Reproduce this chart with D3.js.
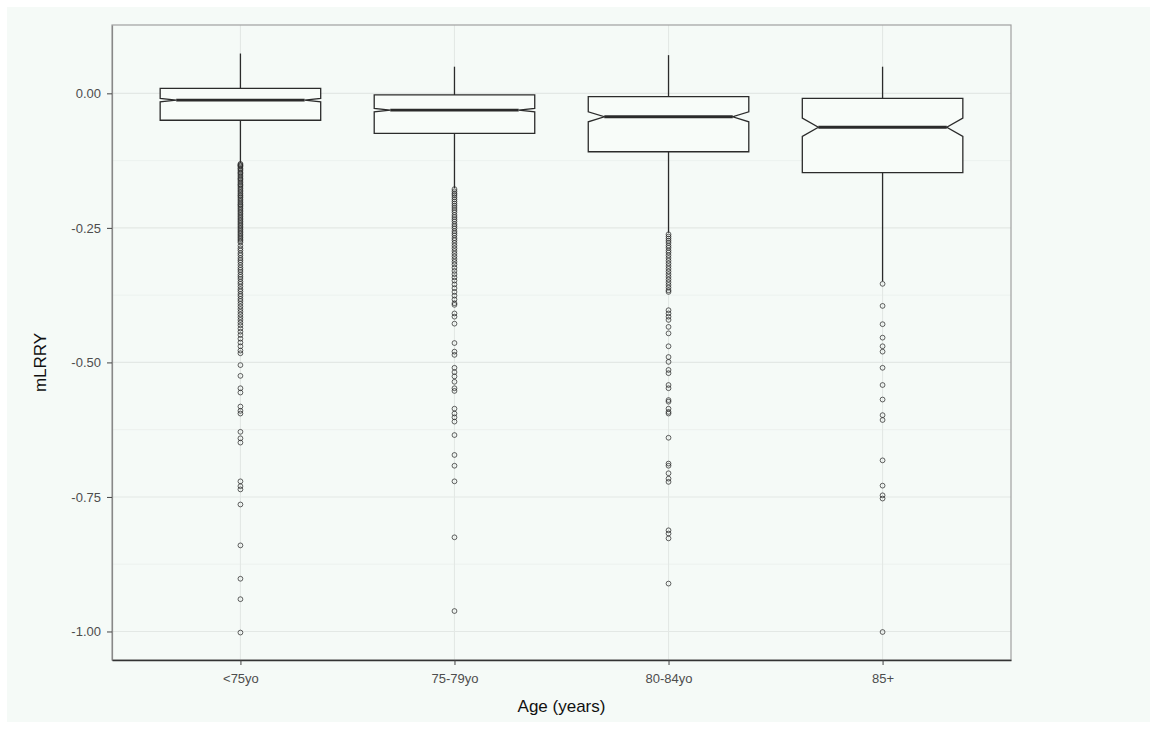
<!DOCTYPE html>
<html>
<head>
<meta charset="utf-8">
<script src="https://cdn.jsdelivr.net/npm/d3@7"></script>
<style>
  html, body { margin: 0; padding: 0; background: #ffffff; }
  svg { display: block; }
</style>
</head>
<body>
<svg id="chart" width="1157" height="729"></svg>
<script>
// Age groups and their box summaries (mLRRY)
const categories = ["<75yo", "75-79yo", "80-84yo", "85+"];
const whiskerHigh = [0.074, 0.0495, 0.071, 0.0495];
const q3 = [0.0093, -0.003, -0.006, -0.0093];
const medians = [-0.0125, -0.031, -0.0435, -0.063];
const q1 = [-0.050, -0.0745, -0.1085, -0.1475];
const whiskerLow = [-0.129, -0.176, -0.259, -0.349];
const notchHalf = [0.0032, 0.0032, 0.0093, 0.017];

// Outlying observations per age group
const outliers0 = [-0.131,-0.133,-0.134,-0.136,-0.139,-0.141,-0.144,-0.147,-0.149,-0.152,-0.155,-0.158,-0.160,-0.163,-0.166,-0.169,-0.171,-0.174,-0.177,-0.180,-0.183,-0.186,-0.189,-0.191,-0.194,-0.197,-0.200,-0.203,-0.206,-0.208,-0.211,-0.214,-0.217,-0.220,-0.223,-0.226,-0.229,-0.232,-0.235,-0.238,-0.241,-0.244,-0.247,-0.250,-0.253,-0.256,-0.259,-0.262,-0.265,-0.268,-0.271,-0.274,-0.277,
  -0.283,-0.288,-0.292,-0.297,-0.301,-0.306,-0.310,-0.314,-0.319,-0.324,-0.328,-0.332,-0.337,-0.341,-0.345,-0.350,-0.354,-0.359,-0.364,-0.368,-0.373,-0.377,-0.382,-0.386,-0.391,-0.396,-0.401,-0.406,-0.411,-0.416,-0.421,-0.426,-0.431,-0.437,-0.443,-0.449,-0.456,-0.463,-0.470,-0.478,-0.483,
  -0.505,-0.525,-0.548,-0.556,-0.582,-0.590,-0.595,-0.629,-0.641,-0.649,-0.721,-0.730,-0.736,-0.764,-0.840,-0.902,-0.940,-1.002];
const outliers1 = [-0.178,-0.182,-0.186,-0.189,-0.193,-0.197,-0.201,-0.205,-0.209,-0.213,-0.217,-0.221,-0.226,-0.230,-0.234,-0.238,-0.243,-0.247,-0.251,-0.256,-0.260,-0.264,-0.269,-0.273,-0.278,-0.283,-0.288,-0.293,-0.298,-0.303,-0.308,-0.313,-0.318,-0.324,-0.330,-0.336,-0.342,-0.348,-0.355,-0.362,-0.369,-0.376,-0.383,-0.390,-0.393,
  -0.409,-0.415,-0.428,-0.464,-0.480,-0.486,-0.510,-0.518,-0.526,-0.536,-0.548,-0.553,-0.586,-0.595,-0.602,-0.610,-0.635,-0.672,-0.692,-0.721,-0.825,-0.962];
const outliers2 = [-0.262,-0.266,-0.270,-0.274,-0.278,-0.283,-0.287,-0.292,-0.296,-0.301,-0.306,-0.311,-0.316,-0.321,-0.326,-0.331,-0.336,-0.341,-0.346,-0.351,-0.356,-0.361,-0.366,-0.369,
  -0.403,-0.409,-0.415,-0.421,-0.434,-0.446,-0.470,-0.490,-0.499,-0.514,-0.520,-0.542,-0.548,-0.570,-0.573,-0.586,-0.592,-0.595,-0.640,-0.688,-0.692,-0.706,-0.716,-0.722,-0.812,-0.818,-0.827,-0.911];
const outliers3 = [-0.354,-0.395,-0.429,-0.454,-0.470,-0.480,-0.510,-0.542,-0.569,-0.598,-0.607,-0.682,-0.729,-0.747,-0.753,-1.001];
const outliers = [outliers0, outliers1, outliers2, outliers3];

const yTicks = [0, -0.25, -0.5, -0.75, -1];
const yMinorTicks = [-0.125, -0.375, -0.625, -0.875];

const svg = d3.select("#chart");
const W = 1157, H = 729;
const panel = { left: 112, right: 1011, top: 25, bottom: 660 };
const font = "Liberation Sans, Arial, sans-serif";

// page background
svg.append("rect").attr("x", 7).attr("y", 7).attr("width", W - 14).attr("height", H - 14)
  .attr("fill", "#f5faf7");

const x = d3.scalePoint().domain(categories).range([panel.left, panel.right]).padding(0.6);
const y = d3.scaleLinear().domain([-1.053, 0.127]).range([panel.bottom, panel.top]);
const boxW = x.step() * 0.75;

const g = svg.append("g");

// grid
g.selectAll(".minor").data(yMinorTicks).join("line")
  .attr("x1", panel.left).attr("x2", panel.right)
  .attr("y1", d => y(d)).attr("y2", d => y(d))
  .attr("stroke", "#eaefec").attr("stroke-width", 0.8);
g.selectAll(".major").data(yTicks).join("line")
  .attr("x1", panel.left).attr("x2", panel.right)
  .attr("y1", d => y(d)).attr("y2", d => y(d))
  .attr("stroke", "#e3e8e5").attr("stroke-width", 1.1);
g.selectAll(".vmajor").data(categories).join("line")
  .attr("x1", d => x(d)).attr("x2", d => x(d))
  .attr("y1", panel.top).attr("y2", panel.bottom)
  .attr("stroke", "#e3e8e5").attr("stroke-width", 1.1);

// panel border
g.append("rect").attr("x", panel.left).attr("y", panel.top)
  .attr("width", panel.right - panel.left).attr("height", panel.bottom - panel.top)
  .attr("fill", "none").attr("stroke", "#a0a0a0").attr("stroke-width", 1.2);

// outliers
categories.forEach((c, i) => {
  g.append("g").selectAll("circle").data(outliers[i]).join("circle")
    .attr("cx", x(c)).attr("cy", d => y(d)).attr("r", 2.4)
    .attr("fill", "none").attr("stroke", "#222").attr("stroke-opacity", 0.7).attr("stroke-width", 1);
});

// notched boxes
const lineCol = "#2b2b2b";
categories.forEach((c, i) => {
  const cx = x(c), l = cx - boxW / 2, r = cx + boxW / 2;
  const inset = boxW * 0.1;
  // whiskers
  g.append("line").attr("x1", cx).attr("x2", cx).attr("y1", y(whiskerHigh[i])).attr("y2", y(q3[i]))
    .attr("stroke", lineCol).attr("stroke-width", 1.3);
  g.append("line").attr("x1", cx).attr("x2", cx).attr("y1", y(q1[i])).attr("y2", y(whiskerLow[i]))
    .attr("stroke", lineCol).attr("stroke-width", 1.3);
  const nHi = medians[i] + notchHalf[i], nLo = medians[i] - notchHalf[i];
  const pts = [
    [l, y(q3[i])], [r, y(q3[i])], [r, y(nHi)], [r - inset, y(medians[i])], [r, y(nLo)],
    [r, y(q1[i])], [l, y(q1[i])], [l, y(nLo)], [l + inset, y(medians[i])], [l, y(nHi)]
  ];
  g.append("path").attr("d", d3.line()(pts) + "Z")
    .attr("fill", "#f8fcf9").attr("stroke", lineCol).attr("stroke-width", 1.3);
  g.append("line").attr("x1", l + inset).attr("x2", r - inset)
    .attr("y1", y(medians[i])).attr("y2", y(medians[i]))
    .attr("stroke", lineCol).attr("stroke-width", 2.8);
});

// axes
const fmt = d => d3.format(".2f")(d).replace("\u2212", "-");
const yAxis = d3.axisLeft(y).tickValues(yTicks).tickFormat(fmt).tickSize(5).tickSizeOuter(0).tickPadding(6);
const yg = svg.append("g").attr("transform", `translate(${panel.left},0)`).call(yAxis);
yg.select(".domain").attr("stroke", "#888").attr("stroke-width", 1.2);
yg.selectAll(".tick line").attr("stroke", "#444").attr("stroke-width", 1);
yg.selectAll(".tick text").attr("fill", "#4d4d4d").style("font-family", font).style("font-size", "13px");

const xAxis = d3.axisBottom(x).tickSize(5).tickSizeOuter(0).tickPadding(9);
const xg = svg.append("g").attr("transform", `translate(0,${panel.bottom})`).call(xAxis);
xg.select(".domain").attr("stroke", "#333").attr("stroke-width", 1.3);
xg.selectAll(".tick line").attr("stroke", "#444").attr("stroke-width", 1);
xg.selectAll(".tick text").attr("fill", "#4d4d4d").style("font-family", font).style("font-size", "13px");

// axis titles
svg.append("text").attr("x", (panel.left + panel.right) / 2).attr("y", 712)
  .attr("text-anchor", "middle").attr("fill", "#111")
  .style("font-family", font).style("font-size", "17px")
  .text("Age (years)");
svg.append("text").attr("transform", `translate(46,${(panel.top + panel.bottom) / 2 + 20}) rotate(-90)`)
  .attr("text-anchor", "middle").attr("fill", "#111")
  .style("font-family", font).style("font-size", "17px")
  .text("mLRRY");
</script>
</body>
</html>
